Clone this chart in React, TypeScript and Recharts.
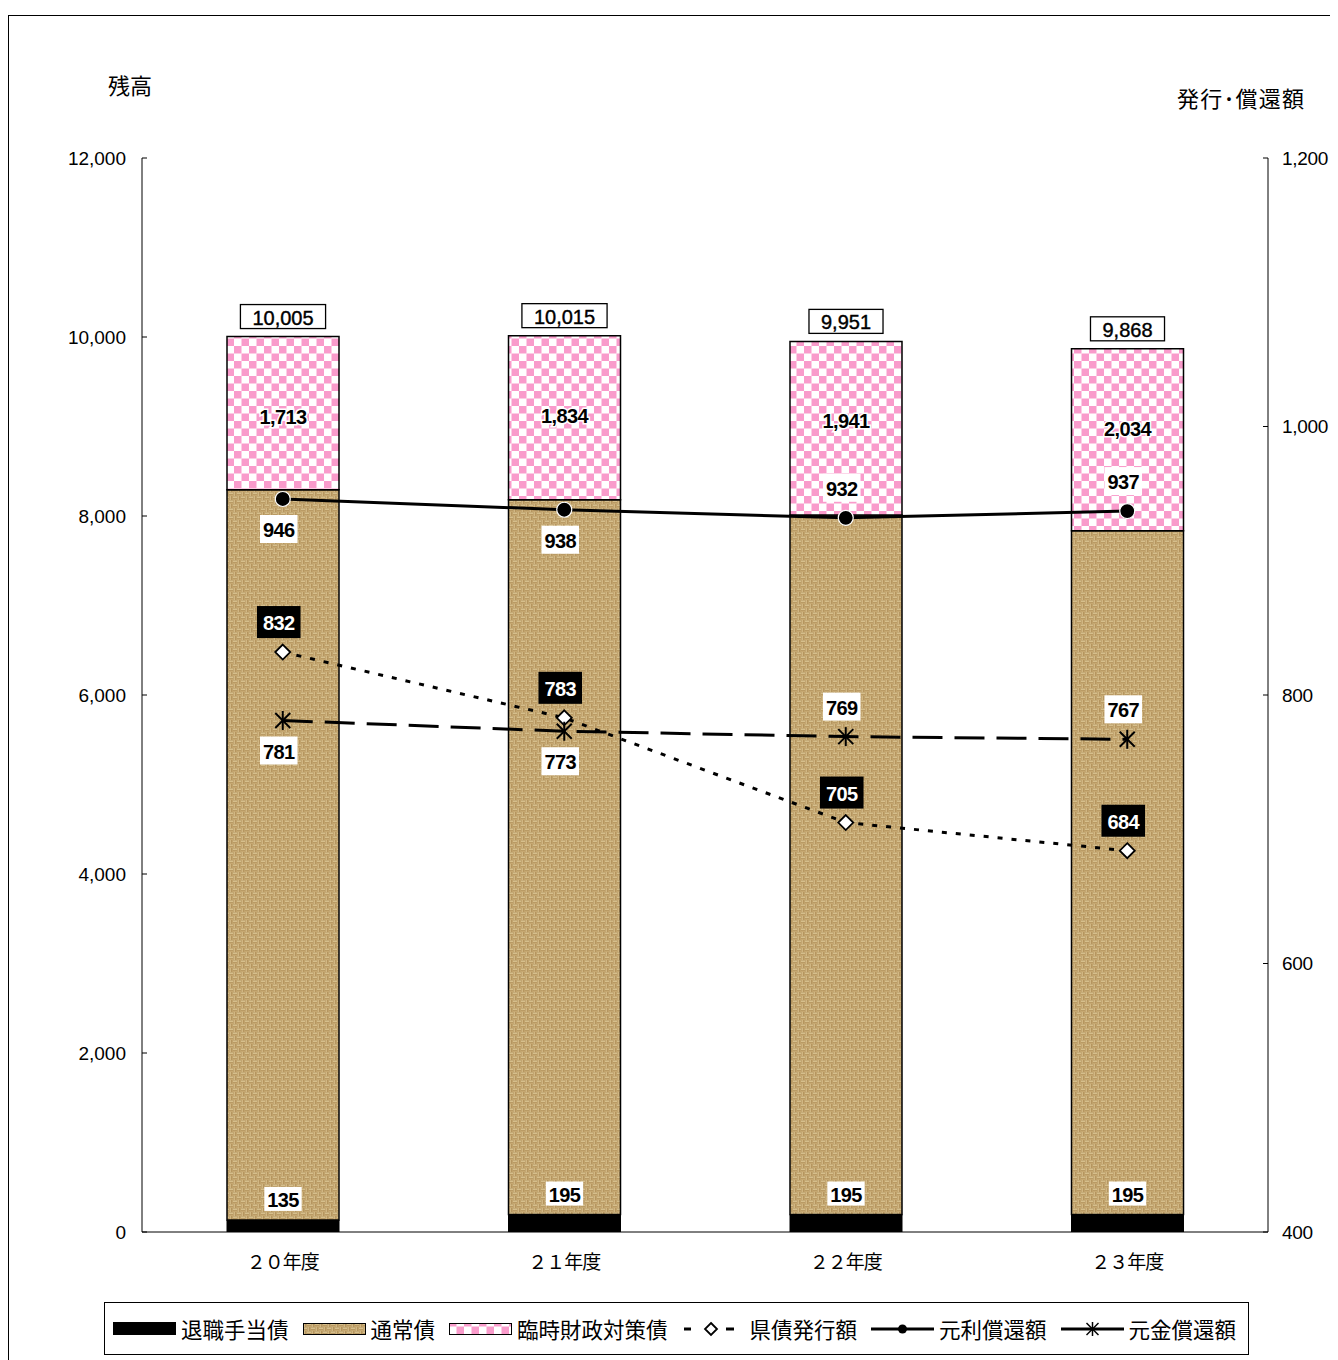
import React from 'react';
import { ComposedChart, Bar, Line, XAxis, YAxis, LabelList } from 'recharts';

// ---- data ----
const years = ['２０年度', '２１年度', '２２年度', '２３年度'];
const taishoku = [135, 195, 195, 195]; // 退職手当債
const tsujo = [8157, 7986, 7815, 7639]; // 通常債
const rinji = [1713, 1834, 1941, 2034]; // 臨時財政対策債
const totals = [10005, 10015, 9951, 9868]; // 残高合計
const kensai = [832, 783, 705, 684]; // 県債発行額
const ganri = [946, 938, 932, 937]; // 元利償還額
const gankin = [781, 773, 769, 767]; // 元金償還額
const leftTicks = [0, 2000, 4000, 6000, 8000, 10000, 12000];
const rightTicks = [400, 600, 800, 1000, 1200];
const boundaryTicks = [1, 2, 3];

// label placement (style, not data)
const ganriSide = ['below', 'below', 'above', 'above'];
const gankinSide = ['below', 'below', 'above', 'above'];

const data = years.map((year, i) => ({
  year,
  taishoku: taishoku[i],
  tsujo: tsujo[i],
  rinji: rinji[i],
  total: totals[i],
  kensai: kensai[i],
  ganri: ganri[i],
  gankin: gankin[i],
}));

const NUM_FONT = '"Liberation Sans", Arial, sans-serif';
const JP_FONT = '"Noto Sans CJK JP", "Noto Sans", sans-serif';
const fmt = (v: number) => Number(v).toLocaleString('en-US');
const textW = (s: string, size = 20) => {
  let w = 0;
  for (const c of s) w += c === ',' ? 0.278 : 0.556;
  return w * size;
};

const TotalLabel = (p: any) => {
  const x = Number(p.x), y = Number(p.y), width = Number(p.width);
  const s = fmt(p.value);
  const bw = textW(s) + 24;
  const cx = x + width / 2;
  const cy = y - 20;
  return (
    <g>
      <rect x={cx - bw / 2} y={cy - 12} width={bw} height={24} fill="#fff" stroke="#000" strokeWidth={1.3} />
      <text x={cx} y={cy + 1} textAnchor="middle" dominantBaseline="central" fontFamily={NUM_FONT} fontSize={20} fill="#000" stroke="#000" strokeWidth={0.4}>
        {s}
      </text>
    </g>
  );
};

const PinkLabel = (p: any) => {
  const x = Number(p.x), y = Number(p.y), width = Number(p.width);
  return (
    <text x={x + width / 2} y={y + 80} textAnchor="middle" dominantBaseline="central" fontFamily={NUM_FONT} fontWeight="bold" fontSize={20} letterSpacing={-0.6} fill="#000" stroke="#fff" strokeWidth={3} paintOrder="stroke">
      {fmt(p.value)}
    </text>
  );
};

const SmallLabel = (p: any) => {
  const x = Number(p.x), y = Number(p.y), width = Number(p.width);
  const s = fmt(p.value);
  const cx = x + width / 2;
  const cy = y - 21;
  const bw = textW(s) + 4;
  return (
    <g>
      <rect x={cx - bw / 2} y={cy - 12} width={bw} height={24} fill="#fff" />
      <text x={cx} y={cy + 1} textAnchor="middle" dominantBaseline="central" fontFamily={NUM_FONT} fontWeight="bold" fontSize={20} letterSpacing={-0.6} fill="#000">
        {s}
      </text>
    </g>
  );
};

const makeLineLabel = (dark: boolean, sides: string[] | null) => (p: any) => {
  const x = Number(p.x), y = Number(p.y);
  const side = sides ? sides[p.index] : 'above';
  const cx = x - 4;
  const cy = side === 'above' ? y - 30 : y + 30;
  const s = fmt(p.value);
  const tw = textW(s) - 1.8;
  const bw = dark ? tw + 12 : tw + 6;
  const bh = dark ? 32 : 28;
  return (
    <g>
      <rect x={cx - bw / 2} y={cy - bh / 2} width={bw} height={bh} fill={dark ? '#000' : '#fff'} />
      <text x={cx} y={cy + 1} textAnchor="middle" dominantBaseline="central" fontFamily={NUM_FONT} fontWeight="bold" fontSize={20} letterSpacing={-0.6} fill={dark ? '#fff' : '#000'}>
        {s}
      </text>
    </g>
  );
};

const DiamondDot = (p: any) => {
  const { cx, cy, index } = p;
  const r = 7.5;
  return (
    <path key={`d${index}`} d={`M${cx},${cy - r}L${cx + r},${cy}L${cx},${cy + r}L${cx - r},${cy}Z`} fill="#fff" stroke="#000" strokeWidth={1.8} />
  );
};

const CircleDot = (p: any) => {
  const { cx, cy, index } = p;
  return <circle key={`c${index}`} cx={cx} cy={cy} r={7.5} fill="#000" stroke="#fff" strokeWidth={1.2} />;
};

const StarDot = (p: any) => {
  const { cx, cy, index } = p;
  const r = 9.5;
  const d = 7.5;
  return (
    <g key={`s${index}`} stroke="#000" strokeWidth={2}>
      <line x1={cx} y1={cy - r} x2={cx} y2={cy + r} />
      <line x1={cx - d} y1={cy - d} x2={cx + d} y2={cy + d} />
      <line x1={cx - d} y1={cy + d} x2={cx + d} y2={cy - d} />
    </g>
  );
};

const XTick = (p: any) => (
  <text x={p.x} y={Number(p.y) + 28} textAnchor="middle" dominantBaseline="central" fontFamily={JP_FONT} fontSize={19} letterSpacing={-1} fill="#000">
    {p.payload.value}
  </text>
);

const PatternDefs = () => (
  <svg width={0} height={0} style={{ position: 'absolute', left: 0, top: 0 }}>
    <defs>
      <pattern id="pinkCheck" width={15} height={15} patternUnits="userSpaceOnUse">
        <rect width={15} height={15} fill="#fff" />
        <rect width={7.5} height={7.5} fill="#f99bcb" />
        <rect x={7.5} y={7.5} width={7.5} height={7.5} fill="#f99bcb" />
      </pattern>
      <pattern id="burlap" width={8} height={8} patternUnits="userSpaceOnUse">
        <rect width={8} height={8} fill="#94703c" />
        <rect x={0} y={0.4} width={4} height={1.4} fill="#e6d2a0" />
        <rect x={0} y={2.4} width={4} height={1.4} fill="#d2b67e" />
        <rect x={4} y={4.4} width={4} height={1.4} fill="#e6d2a0" />
        <rect x={4} y={6.4} width={4} height={1.4} fill="#d2b67e" />
        <rect x={4.4} y={0} width={1.4} height={4} fill="#e0c894" />
        <rect x={6.4} y={0} width={1.4} height={4} fill="#cbae76" />
        <rect x={0.4} y={4} width={1.4} height={4} fill="#e0c894" />
        <rect x={2.4} y={4} width={1.4} height={4} fill="#cbae76" />
      </pattern>
    </defs>
  </svg>
);

const legendItems = [
  { name: '退職手当債', kind: 'black' },
  { name: '通常債', kind: 'burlap' },
  { name: '臨時財政対策債', kind: 'pink' },
  { name: '県債発行額', kind: 'kensai' },
  { name: '元利償還額', kind: 'ganri' },
  { name: '元金償還額', kind: 'gankin' },
];

const LegendSymbol = ({ kind }: { kind: string }) => {
  const w = 63, h = 20, m = h / 2;
  let content: React.ReactNode = null;
  if (kind === 'black') content = <rect x={0} y={m - 7} width={w} height={13} fill="#000" />;
  if (kind === 'burlap') content = <rect x={0.5} y={m - 5.5} width={w - 1} height={11} fill="url(#burlap)" stroke="#000" strokeWidth={1} />;
  if (kind === 'pink') content = <rect x={0.5} y={m - 5.5} width={w - 1} height={11} fill="url(#pinkCheck)" stroke="#000" strokeWidth={1} />;
  if (kind === 'kensai')
    content = (
      <g>
        <line x1={2} y1={m} x2={9} y2={m} stroke="#000" strokeWidth={3} />
        <line x1={44} y1={m} x2={52} y2={m} stroke="#000" strokeWidth={3} />
        <path d={`M29,${m - 6}L35,${m}L29,${m + 6}L23,${m}Z`} fill="#fff" stroke="#000" strokeWidth={1.8} />
      </g>
    );
  if (kind === 'ganri')
    content = (
      <g>
        <line x1={0} y1={m} x2={w} y2={m} stroke="#000" strokeWidth={3} />
        <circle cx={w / 2} cy={m} r={4.5} fill="#000" />
      </g>
    );
  if (kind === 'gankin')
    content = (
      <g stroke="#000">
        <line x1={0} y1={m} x2={w} y2={m} strokeWidth={3} />
        <line x1={w / 2} y1={m - 7} x2={w / 2} y2={m + 7} strokeWidth={1.5} />
        <line x1={w / 2 - 6} y1={m - 6} x2={w / 2 + 6} y2={m + 6} strokeWidth={1.5} />
        <line x1={w / 2 - 6} y1={m + 6} x2={w / 2 + 6} y2={m - 6} strokeWidth={1.5} />
      </g>
    );
  return (
    <svg width={w} height={h} style={{ display: 'block' }}>
      {content}
    </svg>
  );
};

const ChartLegend = () => (
  <div
    style={{
      position: 'absolute',
      left: 95,
      top: 1286,
      width: 1145,
      height: 53,
      border: '1px solid #000',
      boxSizing: 'border-box',
      display: 'flex',
      alignItems: 'center',
      paddingLeft: 8,
      gap: 14,
      fontFamily: JP_FONT,
      fontSize: 21.5,
      color: '#000',
      background: '#fff',
    }}
  >
    {legendItems.map((it) => (
      <div key={it.name} style={{ display: 'flex', alignItems: 'center', gap: 5, whiteSpace: 'nowrap' }}>
        <LegendSymbol kind={it.kind} />
        <span style={{ lineHeight: '24px' }}>{it.name}</span>
      </div>
    ))}
  </div>
);

export default function App() {
  return (
    <div
      style={{
        position: 'relative',
        width: 1330,
        height: 1345,
        marginTop: 7,
        borderLeft: '1px solid #000',
        borderTop: '1px solid #000',
        boxSizing: 'border-box',
        overflow: 'hidden',
        background: '#fff',
      }}
    >
      <style>{'html { overflow: hidden; }'}</style>
      <PatternDefs />
      <div style={{ position: 'absolute', left: 99, top: 57, fontFamily: JP_FONT, fontSize: 22, lineHeight: '22px', color: '#000' }}>残高</div>
      <div style={{ position: 'absolute', left: 1168, top: 70, fontFamily: JP_FONT, fontSize: 22, lineHeight: '22px', letterSpacing: 1.2, color: '#000', whiteSpace: 'nowrap' }}>発行･償還額</div>
      <ComposedChart width={1329} height={1344} data={data} margin={{ top: 142, right: 0, bottom: 88, left: 0 }} barCategoryGap={0}>
        <XAxis xAxisId="grid" type="number" domain={[0, 4]} ticks={boundaryTicks} tick={false} axisLine={false} tickLine={{ stroke: '#000', strokeWidth: 1 }} tickSize={6} height={0} allowDataOverflow />
        <XAxis dataKey="year" xAxisId="cat" tick={<XTick />} tickLine={false} tickSize={0} tickMargin={0} axisLine={{ stroke: '#000', strokeWidth: 1 }} height={40} interval={0} />
        <YAxis
          yAxisId="left"
          orientation="left"
          width={133}
          domain={[0, 12000]}
          ticks={leftTicks}
          allowDataOverflow
          tickFormatter={fmt}
          tick={{ fontFamily: NUM_FONT, fontSize: 19, fill: '#000' }}
          tickSize={-5}
          tickMargin={21}
          tickLine={{ stroke: '#000' }}
          axisLine={{ stroke: '#000' }}
        />
        <YAxis
          yAxisId="right"
          orientation="right"
          width={70}
          domain={[400, 1200]}
          ticks={rightTicks}
          allowDataOverflow
          tickFormatter={fmt}
          tick={{ fontFamily: NUM_FONT, fontSize: 19, fill: '#000', letterSpacing: -0.3 }}
          tickSize={-5}
          tickMargin={19}
          tickLine={{ stroke: '#000' }}
          axisLine={{ stroke: '#000' }}
        />
        <Bar dataKey="taishoku" name="退職手当債" stackId="s" xAxisId="cat" yAxisId="left" barSize={112} fill="#000" stroke="#000" strokeWidth={1} isAnimationActive={false}>
          <LabelList dataKey="taishoku" content={<SmallLabel />} />
        </Bar>
        <Bar dataKey="tsujo" name="通常債" stackId="s" xAxisId="cat" yAxisId="left" barSize={112} fill="url(#burlap)" stroke="#000" strokeWidth={1.5} isAnimationActive={false} />
        <Bar dataKey="rinji" name="臨時財政対策債" stackId="s" xAxisId="cat" yAxisId="left" barSize={112} fill="url(#pinkCheck)" stroke="#000" strokeWidth={1.5} isAnimationActive={false}>
          <LabelList dataKey="rinji" content={<PinkLabel />} />
          <LabelList dataKey="total" content={<TotalLabel />} />
        </Bar>
        <Line dataKey="kensai" name="県債発行額" xAxisId="cat" yAxisId="right" stroke="#000" strokeWidth={3} strokeDasharray="5 9" dot={DiamondDot} activeDot={false} isAnimationActive={false}>
          <LabelList dataKey="kensai" content={makeLineLabel(true, null)} />
        </Line>
        <Line dataKey="gankin" name="元金償還額" xAxisId="cat" yAxisId="right" stroke="#000" strokeWidth={3} strokeDasharray="30 12" dot={StarDot} activeDot={false} isAnimationActive={false}>
          <LabelList dataKey="gankin" content={makeLineLabel(false, gankinSide)} />
        </Line>
        <Line dataKey="ganri" name="元利償還額" xAxisId="cat" yAxisId="right" stroke="#000" strokeWidth={3} dot={CircleDot} activeDot={false} isAnimationActive={false}>
          <LabelList dataKey="ganri" content={makeLineLabel(false, ganriSide)} />
        </Line>
      </ComposedChart>
      <ChartLegend />
    </div>
  );
}
